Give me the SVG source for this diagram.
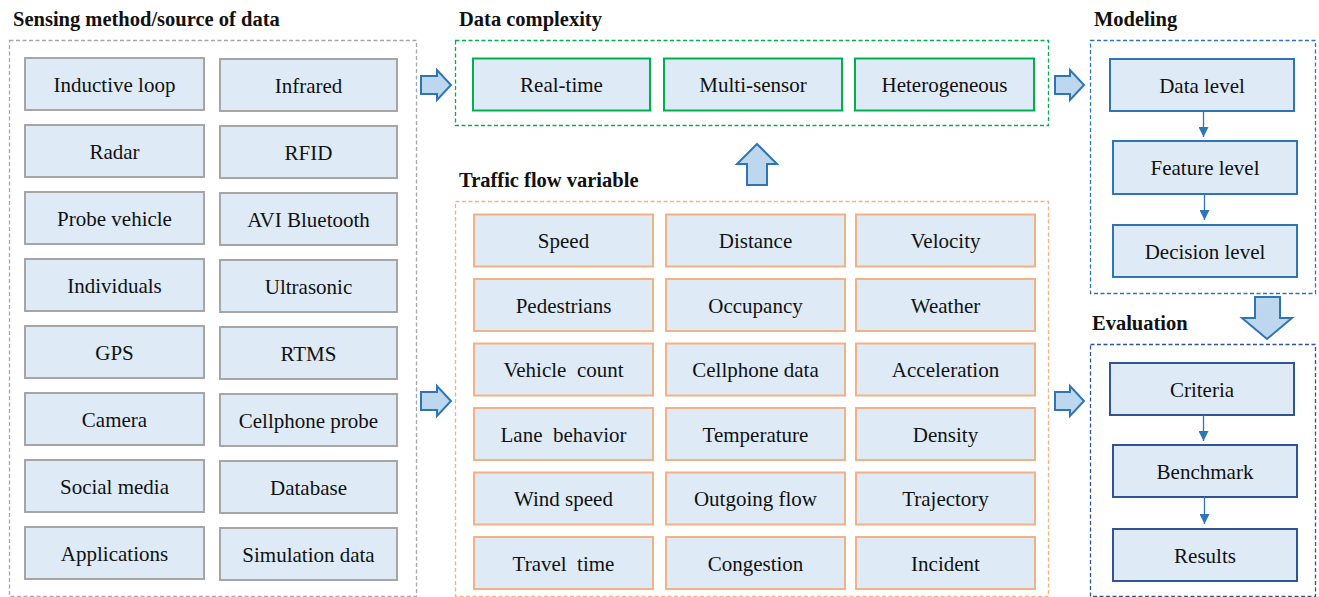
<svg xmlns="http://www.w3.org/2000/svg" width="1319" height="597" viewBox="0 0 1319 597">
<style>
text{font-family:'Liberation Serif','Times New Roman',serif;fill:#111;}
.t{font-size:21px;text-anchor:middle;white-space:pre;}
.h{font-size:20.5px;font-weight:bold;white-space:pre;}
.b{fill:#DEEBF7;stroke-width:2;}
.g{stroke:#A6A6A6;}
.gr{stroke:#00B050;}
.o{stroke:#F4B183;}
.bl{stroke:#2E75B6;}
.db{stroke:#2F5597;}
.c{fill:none;stroke-width:1.3;stroke-dasharray:4 2.5;}
.ba{fill:#BDD7EE;stroke:#2E75B6;stroke-width:2;stroke-linejoin:miter;}
</style>
<defs>
<marker id="ah" viewBox="0 0 10 10" refX="10" refY="5" markerWidth="11" markerHeight="10" markerUnits="userSpaceOnUse" orient="auto">
<path d="M0,0 L10,5 L0,10 Z" fill="#2E75B6"/>
</marker>
</defs>
<rect width="1319" height="597" fill="#fff"/>

<g id="titles">
<text class="h" x="13" y="26">Sensing method/source of data</text>
<text class="h" x="459" y="26">Data complexity</text>
<text class="h" x="459" y="187">Traffic flow variable</text>
<text class="h" x="1094" y="26">Modeling</text>
<text class="h" x="1092" y="330">Evaluation</text>
</g>

<g id="sensing-container"><rect class="c g" x="9.5" y="40.5" width="407" height="556"/></g>
<g id="complexity-container"><rect class="c gr" x="455.5" y="40.5" width="593" height="85"/></g>
<g id="traffic-container"><rect class="c o" x="455.5" y="201.5" width="593" height="395"/></g>
<g id="modeling-container"><rect class="c bl" x="1090.5" y="40.5" width="225" height="253"/></g>
<g id="evaluation-container"><rect class="c db" x="1090.5" y="344.5" width="225" height="252"/></g>

<g id="n-inductive"><rect class="b g" x="25" y="58" width="179" height="52"/><text class="t" x="114.5" y="92">Inductive loop</text></g>
<g id="n-infrared"><rect class="b g" x="220" y="59" width="177" height="52"/><text class="t" x="308.5" y="93">Infrared</text></g>
<g id="n-radar"><rect class="b g" x="25" y="125" width="179" height="52"/><text class="t" x="114.5" y="159">Radar</text></g>
<g id="n-rfid"><rect class="b g" x="220" y="126" width="177" height="52"/><text class="t" x="308.5" y="160">RFID</text></g>
<g id="n-probe"><rect class="b g" x="25" y="192" width="179" height="52"/><text class="t" x="114.5" y="226">Probe vehicle</text></g>
<g id="n-avi"><rect class="b g" x="220" y="193" width="177" height="52"/><text class="t" x="308.5" y="227">AVI Bluetooth</text></g>
<g id="n-individuals"><rect class="b g" x="25" y="259" width="179" height="52"/><text class="t" x="114.5" y="293">Individuals</text></g>
<g id="n-ultrasonic"><rect class="b g" x="220" y="260" width="177" height="52"/><text class="t" x="308.5" y="294">Ultrasonic</text></g>
<g id="n-gps"><rect class="b g" x="25" y="326" width="179" height="52"/><text class="t" x="114.5" y="360">GPS</text></g>
<g id="n-rtms"><rect class="b g" x="220" y="327" width="177" height="52"/><text class="t" x="308.5" y="361">RTMS</text></g>
<g id="n-camera"><rect class="b g" x="25" y="393" width="179" height="52"/><text class="t" x="114.5" y="427">Camera</text></g>
<g id="n-cellprobe"><rect class="b g" x="220" y="394" width="177" height="52"/><text class="t" x="308.5" y="428">Cellphone probe</text></g>
<g id="n-social"><rect class="b g" x="25" y="460" width="179" height="52"/><text class="t" x="114.5" y="494">Social media</text></g>
<g id="n-database"><rect class="b g" x="220" y="461" width="177" height="52"/><text class="t" x="308.5" y="495">Database</text></g>
<g id="n-applications"><rect class="b g" x="25" y="527" width="179" height="52"/><text class="t" x="114.5" y="561">Applications</text></g>
<g id="n-simulation"><rect class="b g" x="220" y="528" width="177" height="52"/><text class="t" x="308.5" y="562">Simulation data</text></g>

<g id="n-realtime"><rect class="b gr" x="473" y="58.5" width="177" height="52"/><text class="t" x="561.5" y="92">Real-time</text></g>
<g id="n-multisensor"><rect class="b gr" x="664" y="58.5" width="178" height="52"/><text class="t" x="753" y="92">Multi-sensor</text></g>
<g id="n-heterogeneous"><rect class="b gr" x="855" y="58.5" width="179" height="52"/><text class="t" x="944.5" y="92">Heterogeneous</text></g>

<g id="n-speed"><rect class="b o" x="474" y="214.5" width="179" height="52"/><text class="t" x="563.5" y="248">Speed</text></g>
<g id="n-distance"><rect class="b o" x="666" y="214.5" width="179" height="52"/><text class="t" x="755.5" y="248">Distance</text></g>
<g id="n-velocity"><rect class="b o" x="856" y="214.5" width="179" height="52"/><text class="t" x="945.5" y="248">Velocity</text></g>
<g id="n-pedestrians"><rect class="b o" x="474" y="279" width="179" height="52"/><text class="t" x="563.5" y="312.5">Pedestrians</text></g>
<g id="n-occupancy"><rect class="b o" x="666" y="279" width="179" height="52"/><text class="t" x="755.5" y="312.5">Occupancy</text></g>
<g id="n-weather"><rect class="b o" x="856" y="279" width="179" height="52"/><text class="t" x="945.5" y="312.5">Weather</text></g>
<g id="n-vehiclecount"><rect class="b o" x="474" y="343.5" width="179" height="52"/><text class="t" x="563.5" y="377">Vehicle  count</text></g>
<g id="n-cellphonedata"><rect class="b o" x="666" y="343.5" width="179" height="52"/><text class="t" x="755.5" y="377">Cellphone data</text></g>
<g id="n-acceleration"><rect class="b o" x="856" y="343.5" width="179" height="52"/><text class="t" x="945.5" y="377">Acceleration</text></g>
<g id="n-lane"><rect class="b o" x="474" y="408" width="179" height="52"/><text class="t" x="563.5" y="441.5">Lane  behavior</text></g>
<g id="n-temperature"><rect class="b o" x="666" y="408" width="179" height="52"/><text class="t" x="755.5" y="441.5">Temperature</text></g>
<g id="n-density"><rect class="b o" x="856" y="408" width="179" height="52"/><text class="t" x="945.5" y="441.5">Density</text></g>
<g id="n-wind"><rect class="b o" x="474" y="472.5" width="179" height="52"/><text class="t" x="563.5" y="506">Wind speed</text></g>
<g id="n-outgoing"><rect class="b o" x="666" y="472.5" width="179" height="52"/><text class="t" x="755.5" y="506">Outgoing flow</text></g>
<g id="n-trajectory"><rect class="b o" x="856" y="472.5" width="179" height="52"/><text class="t" x="945.5" y="506">Trajectory</text></g>
<g id="n-travel"><rect class="b o" x="474" y="537" width="179" height="52"/><text class="t" x="563.5" y="570.5">Travel  time</text></g>
<g id="n-congestion"><rect class="b o" x="666" y="537" width="179" height="52"/><text class="t" x="755.5" y="570.5">Congestion</text></g>
<g id="n-incident"><rect class="b o" x="856" y="537" width="179" height="52"/><text class="t" x="945.5" y="570.5">Incident</text></g>

<g id="n-datalevel"><rect class="b bl" x="1110" y="59" width="184" height="52"/><text class="t" x="1202" y="92.5">Data level</text></g>
<g id="n-featurelevel"><rect class="b bl" x="1113" y="141" width="184" height="53"/><text class="t" x="1205" y="175">Feature level</text></g>
<g id="n-decisionlevel"><rect class="b bl" x="1113" y="225" width="184" height="52"/><text class="t" x="1205" y="259">Decision level</text></g>

<g id="n-criteria"><rect class="b db" x="1110" y="363" width="184" height="52"/><text class="t" x="1202" y="397">Criteria</text></g>
<g id="n-benchmark"><rect class="b db" x="1113" y="445" width="184" height="52"/><text class="t" x="1205" y="479">Benchmark</text></g>
<g id="n-results"><rect class="b db" x="1113" y="529" width="184" height="52"/><text class="t" x="1205" y="563">Results</text></g>

<g id="connectors">
<polygon class="ba" points="421,76 437,76 437,70 451,85 437,100 437,94 421,94"/>
<polygon class="ba" points="421,392 437,392 437,386 451,401 437,416 437,410 421,410"/>
<polygon class="ba" points="1055,76 1070,76 1070,70 1084,85 1070,100 1070,94 1055,94"/>
<polygon class="ba" points="1055,392 1070,392 1070,386 1084,401 1070,416 1070,410 1055,410"/>
<polygon class="ba" points="757,144 777,164 767,164 767,185 747,185 747,164 737,164"/>
<polygon class="ba" points="1255,297 1280,297 1280,318 1292,318 1267,339 1242,318 1255,318"/>
<g stroke="#2E75B6" stroke-width="1.3" fill="none" marker-end="url(#ah)">
<line x1="1203.5" y1="111" x2="1203.5" y2="137"/>
<line x1="1204.5" y1="194" x2="1204.5" y2="220"/>
<line x1="1203.5" y1="415" x2="1203.5" y2="441"/>
<line x1="1204.5" y1="497" x2="1204.5" y2="524"/>
</g>
</g>
</svg>
